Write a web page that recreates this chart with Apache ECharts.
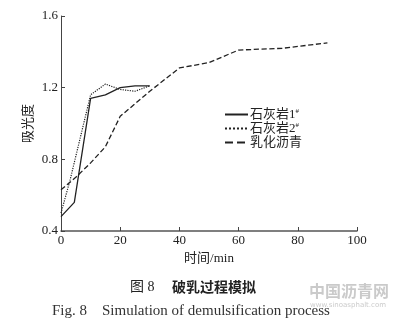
<!DOCTYPE html>
<html>
<head>
<meta charset="utf-8">
<script src="https://cdn.jsdelivr.net/npm/echarts@6/dist/echarts.min.js"></script>
<style>
  html, body { margin: 0; padding: 0; background: #fff; }
  #chart { width: 397px; height: 327px; }
</style>
</head>
<body>
<div id="chart"></div>
<script>
// values: [time/min, absorbance]
const limestone1 = [[0, 0.48], [4.5, 0.56], [10, 1.14], [15, 1.16], [20, 1.20], [25, 1.21], [30, 1.21]]
const limestone2 = [[0, 0.50], [3, 0.68], [10, 1.16], [15, 1.22], [20, 1.19], [25, 1.18], [30, 1.21]]
const emulsion = [[0, 0.63], [5, 0.70], [10, 0.78], [15, 0.87], [20, 1.04], [30, 1.18], [40, 1.31], [50, 1.34], [60, 1.41], [75, 1.42], [90, 1.45]]
const seriesNames = ['石灰岩1#', '石灰岩2#', '乳化沥青']

const serif = '"Liberation Serif", "DejaVu Serif", "Noto Sans CJK SC", serif'
const ink = '#222'

const chart = echarts.init(document.getElementById('chart'))

function line(name, data, type) {
  return {
    name,
    type: 'line',
    data,
    symbol: 'none',
    lineStyle: { color: ink, width: type === 'dotted' ? 1.2 : 1.3, type },
    itemStyle: { color: ink },
  }
}

chart.setOption({
  backgroundColor: '#fff',
  animation: false,
  grid: { left: 61, right: 40, top: 16, bottom: 96 },
  legend: {
    left: 219,
    top: 103,
    orient: 'vertical',
    itemGap: 1,
    itemWidth: 23,
    itemHeight: 14,
    itemStyle: { opacity: 0 },
    data: seriesNames,
    formatter: (n) => {
      const m = n.match(/^(.*?)(\d)#$/)
      return m ? m[1] + m[2] + '{sup|#}' : n
    },
    textStyle: {
      fontFamily: serif,
      fontSize: 13,
      color: ink,
      padding: [0, 0, 0, -3],
      rich: { sup: { fontSize: 7, verticalAlign: 'top', padding: [0, 0, 6, 0], fontFamily: serif, color: ink } },
    },
  },
  xAxis: {
    type: 'value',
    min: 0,
    max: 100,
    interval: 20,
    name: '时间/min',
    nameLocation: 'middle',
    nameGap: 17,
    nameTextStyle: { fontFamily: serif, fontSize: 13, color: ink },
    axisLine: { lineStyle: { color: '#555', width: 1.5 } },
    axisTick: { inside: true, length: 4, lineStyle: { color: '#444' } },
    axisLabel: { fontFamily: serif, fontSize: 13, color: ink, margin: 3 },
    splitLine: { show: false },
  },
  yAxis: {
    type: 'value',
    min: 0.4,
    max: 1.6,
    interval: 0.4,
    name: '吸光度',
    nameLocation: 'middle',
    nameGap: 26,
    nameMoveOverlap: false,
    nameRotate: 90,
    nameTextStyle: { fontFamily: serif, fontSize: 13, color: ink },
    axisLine: { show: true, lineStyle: { color: '#444', width: 1 } },
    axisTick: { inside: true, length: 4, lineStyle: { color: '#444' } },
    axisLabel: { fontFamily: serif, fontSize: 13, color: ink, margin: 3, formatter: (v) => v.toFixed(1) },
    splitLine: { show: false },
  },
  graphic: [
    {
      type: 'text',
      left: 130,
      top: 280,
      style: { text: '图 8', font: '14px ' + serif, fill: ink },
    },
    {
      type: 'text',
      left: 172,
      top: 280,
      style: { text: '破乳过程模拟', font: 'bold 14px "Noto Sans CJK SC", serif', fill: ink },
    },
    {
      type: 'text',
      left: 52,
      top: 304,
      style: { text: 'Fig. 8    Simulation of demulsification process', font: '15px ' + serif, fill: '#333' },
    },
    {
      type: 'text',
      left: 309,
      top: 283,
      style: { text: '中国沥青网', font: 'bold 16px "Noto Sans CJK SC"', fill: 'rgba(150,150,150,0.5)' },
    },
    {
      type: 'text',
      left: 310,
      top: 302,
      style: { text: 'www.sinoasphalt.com', font: '7px "DejaVu Sans"', fill: 'rgba(150,150,150,0.5)' },
    },
  ],
  series: [
    line(seriesNames[0], limestone1, 'solid'),
    line(seriesNames[1], limestone2, 'dotted'),
    line(seriesNames[2], emulsion, 'dashed'),
  ],
})
</script>
</body>
</html>
